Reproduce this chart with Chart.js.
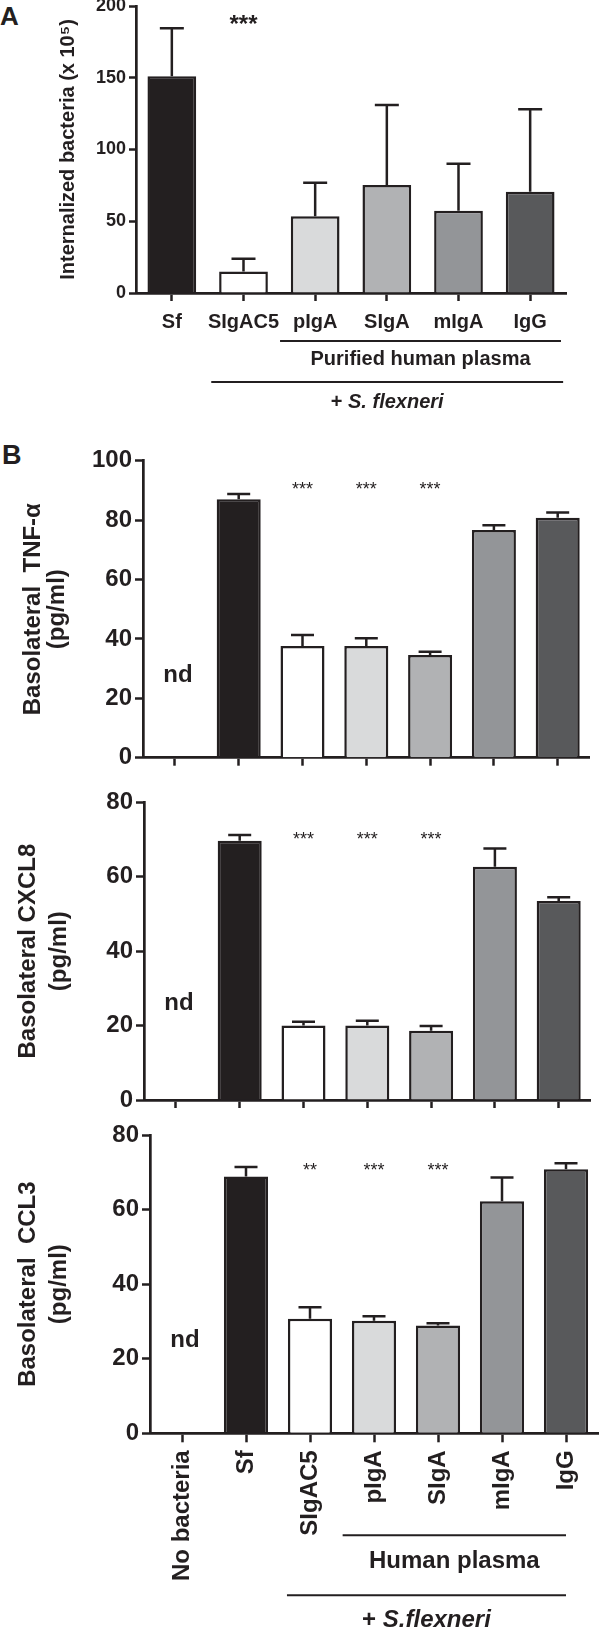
<!DOCTYPE html>
<html>
<head>
<meta charset="utf-8">
<script src="https://cdn.jsdelivr.net/npm/chart.js@4.4.1/dist/chart.umd.min.js"></script>
<style>
  html, body { margin: 0; padding: 0; background: #fff; }
  #page { position: relative; width: 600px; height: 1631px; overflow: hidden; font-family: 'Liberation Sans', Arial, sans-serif; color: #231f20; }
  .panel { position: absolute; left: 0; width: 600px; }
  .letter { position: absolute; font-weight: bold; line-height: 1; }
</style>
</head>
<body>
<div id="page">
  <div class="letter" style="left:0;top:3px;font-size:26px">A</div>
  <div class="panel" style="top:0;height:420px"><canvas id="chartA"></canvas></div>
  <div class="letter" style="left:2px;top:442px;font-size:27px">B</div>
  <div class="panel" style="top:440px;height:330px"><canvas id="chartTnf"></canvas></div>
  <div class="panel" style="top:775px;height:335px"><canvas id="chartCxcl8"></canvas></div>
  <div class="panel" style="top:1115px;height:516px"><canvas id="chartCcl3"></canvas></div>
</div>
<script>
const FONT = "'Liberation Sans', Arial, sans-serif";
const INK = '#231f20';

// panel A: internalized bacteria
const categoriesA = ['Sf', 'SIgAC5', 'pIgA', 'SIgA', 'mIgA', 'IgG'];
const internalized = [151, 15, 53.4, 75.3, 57.4, 70.6];
const internalizedErr = [184.5, 23.9, 76.9, 131, 90.1, 128];
const ticksA = [0, 50, 100, 150, 200];
const starsA = ['', '***', '', '', '', ''];

// panel B: basolateral cytokines
const categoriesB = ['No bacteria', 'Sf', 'SIgAC5', 'pIgA', 'SIgA', 'mIgA', 'IgG'];
const tnfAlpha = [0, 87.0, 37.6, 37.6, 34.6, 76.7, 80.8];
const tnfAlphaErr = [null, 88.8, 41.3, 40.2, 35.7, 78.3, 82.6];
const cxcl8 = [0, 69.7, 20.0, 20.0, 18.6, 62.7, 53.5];
const cxcl8Err = [null, 71.2, 21.0, 21.3, 19.9, 67.6, 54.5];
const ccl3 = [0, 68.9, 30.7, 30.2, 28.9, 62.2, 70.8];
const ccl3Err = [null, 71.4, 33.8, 31.4, 29.5, 68.6, 72.4];
const ticksTnf = [0, 20, 40, 60, 80, 100];
const ticksChemokine = [0, 20, 40, 60, 80];
const starsTnf = ['', '', '***', '***', '***', '', ''];
const starsCxcl8 = ['', '', '***', '***', '***', '', ''];
const starsCcl3 = ['', '', '**', '***', '***', '', ''];

const colorsA = ['#231f20', '#ffffff', '#d9dadb', '#b1b2b4', '#939598', '#58595b'];
const colorsB = ['#ffffff'].concat(colorsA);

const errorBars = {
  id: 'errorBars',
  afterDatasetsDraw(chart, args, opts) {
    const ctx = chart.ctx;
    const y = chart.scales.y;
    const meta = chart.getDatasetMeta(0);
    ctx.save();
    ctx.strokeStyle = INK;
    ctx.lineWidth = opts.lineWidth;
    meta.data.forEach((bar, i) => {
      const top = opts.values[i];
      if (top == null) return;
      const yTop = y.getPixelForValue(top);
      ctx.beginPath();
      ctx.moveTo(bar.x, bar.y);
      ctx.lineTo(bar.x, yTop);
      ctx.moveTo(bar.x - opts.cap / 2, yTop);
      ctx.lineTo(bar.x + opts.cap / 2, yTop);
      ctx.stroke();
    });
    ctx.restore();
  }
};

function drawParts(ctx, parts, cx, cy, size) {
  const fonts = parts.map(p => (p.italic ? 'italic ' : '') + 'bold ' + size + 'px ' + FONT);
  const widths = parts.map((p, i) => { ctx.font = fonts[i]; return ctx.measureText(p.t).width; });
  let x = cx - widths.reduce((a, b) => a + b, 0) / 2;
  ctx.textAlign = 'left';
  ctx.textBaseline = 'middle';
  parts.forEach((p, i) => { ctx.font = fonts[i]; ctx.fillText(p.t, x, cy); x += widths[i]; });
}

const notes = {
  id: 'notes',
  afterDraw(chart, args, opts) {
    const {ctx, chartArea} = chart;
    const x = chart.scales.x, y = chart.scales.y;
    ctx.save();
    ctx.fillStyle = INK;
    ctx.strokeStyle = INK;
    ctx.textAlign = 'center';
    ctx.textBaseline = 'alphabetic';
    ctx.font = opts.starFont;
    opts.stars.forEach((s, i) => {
      if (s) ctx.fillText(s, x.getPixelForValue(i), y.getPixelForValue(opts.starLevel));
    });
    if (opts.nd) {
      ctx.font = 'bold 24px ' + FONT;
      ctx.textBaseline = 'middle';
      ctx.fillText('nd', x.getPixelForValue(0) + 3, y.getPixelForValue(opts.nd));
    }
    const step = x.getPixelForValue(1) - x.getPixelForValue(0);
    (opts.groups || []).forEach(g => {
      const x1 = x.getPixelForValue(g.from) - g.padL * step;
      const x2 = x.getPixelForValue(g.to) + g.padR * step;
      const yl = chartArea.bottom + g.lineY;
      ctx.lineWidth = 2;
      ctx.beginPath();
      ctx.moveTo(x1, yl);
      ctx.lineTo(x2, yl);
      ctx.stroke();
      drawParts(ctx, g.parts, (x1 + x2) / 2, chartArea.bottom + g.textY, g.size);
    });
    ctx.restore();
  }
};

function yAxis(tickValues, max, width, tickSize, tickLen, title, titleSize, titleLine, titlePad) {
  return {
    min: 0,
    max: max,
    afterBuildTicks: s => { s.ticks = tickValues.map(v => ({value: v})); },
    afterFit: s => { s.width = width; s.paddingTop = 0; s.paddingBottom = 0; },
    grid: {drawOnChartArea: false, tickLength: tickLen, tickWidth: 2.5, tickColor: INK},
    border: {color: INK, width: 2.7},
    ticks: {color: INK, padding: 3, font: {family: FONT, weight: 'bold', size: tickSize}},
    title: {
      display: true, text: title, color: INK,
      font: {family: FONT, weight: 'bold', size: titleSize, lineHeight: titleLine},
      padding: {top: titlePad, bottom: 0}
    }
  };
}

function xAxis(height, showLabels, labelSize, rotate, labelPad, tickLen) {
  return {
    type: 'category',
    offset: true,
    afterFit: s => { s.height = height; s.paddingLeft = 0; s.paddingRight = 0; },
    grid: {drawOnChartArea: false, offset: false, tickLength: tickLen, tickWidth: 2.5, tickColor: INK},
    border: {color: INK, width: 2.7},
    ticks: {
      display: showLabels, color: INK, padding: labelPad, autoSkip: false,
      minRotation: rotate, maxRotation: rotate,
      font: {family: FONT, weight: 'bold', size: labelSize}
    }
  };
}

function barChart(id, labels, values, errs, colors, barPct, cap, pad, yOpts, xOpts, noteOpts) {
  return new Chart(document.getElementById(id), {
    type: 'bar',
    data: {
      labels: labels,
      datasets: [{
        data: values,
        backgroundColor: colors,
        borderColor: INK,
        borderWidth: 2.5,
        categoryPercentage: 1,
        barPercentage: barPct
      }]
    },
    options: {
      responsive: true,
      maintainAspectRatio: false,
      animation: false,
      devicePixelRatio: 1,
      layout: {padding: pad},
      scales: {x: xOpts, y: yOpts},
      plugins: {
        legend: {display: false},
        tooltip: {enabled: false},
        errorBars: {values: errs, cap: cap, lineWidth: 2.5},
        notes: noteOpts
      }
    },
    plugins: [errorBars, notes]
  });
}

barChart('chartA', categoriesA, internalized, internalizedErr, colorsA, 0.68, 24,
  {left: 0, right: 34, top: 6, bottom: 0},
  yAxis(ticksA, 200, 136, 18, 7, 'Internalized bacteria (x 10\u2075)', 20, 1.2, 56),
  xAxis(127, true, 20, 0, 9, 8),
  {
    stars: starsA, starLevel: 182, starFont: 'bold 24px ' + FONT,
    groups: [
      {from: 2, to: 5, padL: 0.49, padR: 0.43, lineY: 48, textY: 66, size: 20,
        parts: [{t: 'Purified human plasma'}]},
      {from: 1, to: 5, padL: 0.45, padR: 0.46, lineY: 89, textY: 109, size: 20,
        parts: [{t: '+ '}, {t: 'S. flexneri', italic: true}]}
    ]
  });

barChart('chartTnf', categoriesB, tnfAlpha, tnfAlphaErr, colorsB, 0.69, 23,
  {left: 0, right: 10.4, top: 20.7, bottom: 0},
  yAxis(ticksTnf, 100, 143, 24, 8, ['Basolateral  TNF-\u03b1', '(pg/ml)'], 24, 1.0, 21),
  xAxis(12.3, false, 24, 0, 0, 8),
  {stars: starsTnf, starLevel: 88.6, starFont: '18px ' + FONT, nd: 27.8});

barChart('chartCxcl8', categoriesB, cxcl8, cxcl8Err, colorsB, 0.69, 23,
  {left: 0, right: 9.4, top: 27.3, bottom: 0},
  yAxis(ticksChemokine, 80, 144, 24, 8, ['Basolateral CXCL8', '(pg/ml)'], 24, 1.3, 13),
  xAxis(10, false, 24, 0, 0, 8),
  {stars: starsCxcl8, starLevel: 68.4, starFont: '18px ' + FONT, nd: 26});

barChart('chartCcl3', categoriesB, ccl3, ccl3Err, colorsB, 0.69, 23,
  {left: 0, right: 2, top: 20, bottom: 0},
  yAxis(ticksChemokine, 80, 150, 24, 8, ['Basolateral  CCL3', '(pg/ml)'], 24, 1.3, 13),
  xAxis(197.7, true, 24, 90, 8, 9),
  {
    stars: starsCcl3, starLevel: 68.9, starFont: '18px ' + FONT, nd: 24.8,
    groups: [
      {from: 3, to: 6, padL: 0.49, padR: 0, lineY: 102, textY: 128, size: 24,
        parts: [{t: 'Human plasma'}]},
      {from: 2, to: 6, padL: 0.36, padR: 0, lineY: 162, textY: 187, size: 24,
        parts: [{t: '+ '}, {t: 'S.flexneri', italic: true}]}
    ]
  });
</script>
</body>
</html>
